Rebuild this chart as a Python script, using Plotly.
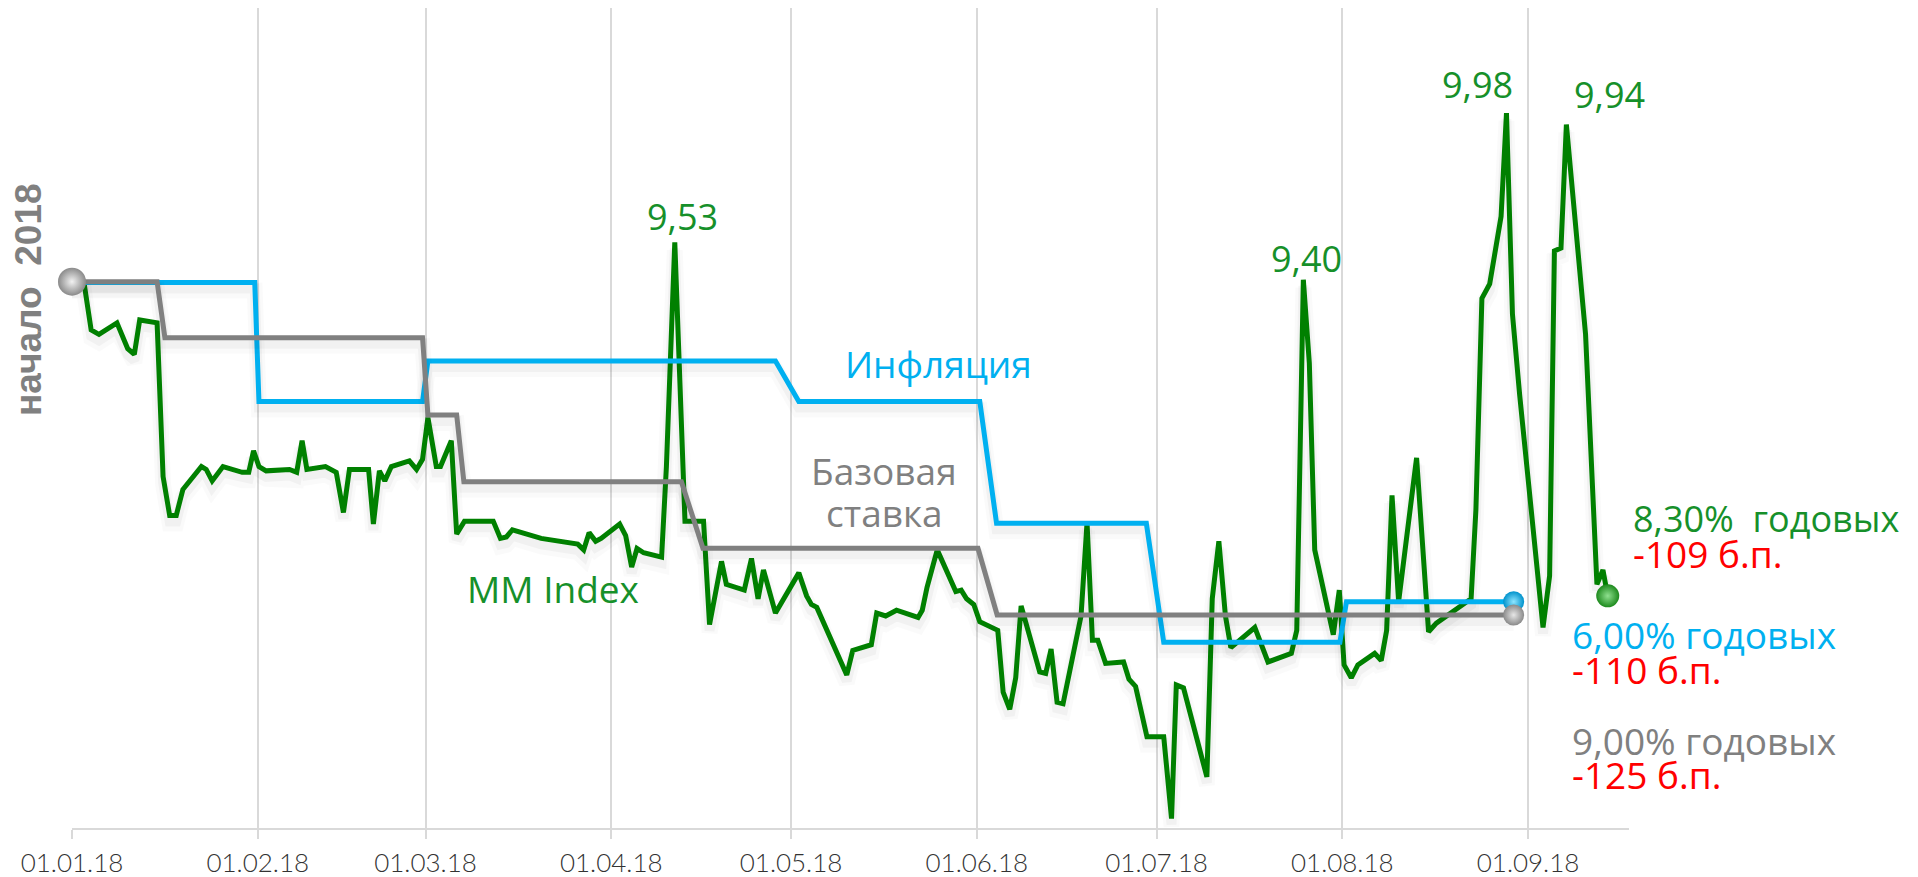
import pandas as pd
import plotly.graph_objects as go

# ---------------- data ----------------
# days counted from 01.01.18
mm_days = [
    0, 2, 3.2, 4.5, 7.5, 9.3, 10.4, 11.3, 14.2, 15.2,
    16.3, 17.4, 18.5, 21.6, 22.4, 23.4, 25.2, 28.4, 29.5, 30.3,
    31.2, 32.4, 36.3, 37.5, 38.4, 39.2, 42.3, 44.1, 45.3, 46.3,
    49.5, 50.3, 51.3, 52.2, 53.3, 56.3, 57.5, 58.5, 59.4, 60.8,
    61.5, 63.3, 64.2, 65.5, 70.3, 71.5, 72.5, 73.5, 78.3, 84.4,
    85.4, 86.3, 87.4, 88.3, 91.4, 92.4, 93.4, 94.3, 95.4, 98.4,
    99.2, 100.6, 102.3, 105.4, 106.4, 108.4, 109.2, 112.2, 113.4, 114.5,
    115.4, 117.4, 121.3, 122.6, 123.4, 124.3, 129.3, 130.3, 133.4, 134.3,
    135.8, 137.6, 141.2, 141.9, 142.7, 144.4, 147.5, 148.4, 149.3, 150.5,
    151.5, 154.5, 155.4, 156.5, 157.5, 158.4, 161.5, 162.5, 163.4, 164.4,
    165.4, 168.4, 169.4, 170.3, 171.2, 172.5, 175.5, 176.4, 177.5, 179.4,
    182.2, 183.5, 184.3, 185.5, 189.4, 190.3, 191.4, 192.5, 193.4, 197.4,
    199.6, 203.5, 204.4, 205.5, 206.5, 207.4, 210.5, 211.5, 212.3, 213.5,
    214.6, 217.4, 218.5, 219.4, 220.3, 221.4, 224.4, 225.3, 226.4, 227.7,
    230.7, 233.5, 234.3, 235.3, 236.6, 238.5, 239.4, 240.4, 241.6, 245.5,
    246.6, 247.4, 248.5, 249.4, 252.6, 253.4, 254.5, 255.5, 256.3,
]
mm_rates = [
    9.39, 9.39, 9.225, 9.21, 9.25, 9.16, 9.14, 9.26, 9.25, 8.715,
    8.58, 8.58, 8.67, 8.75, 8.74, 8.70, 8.75, 8.73, 8.73, 8.805,
    8.75, 8.735, 8.74, 8.73, 8.84, 8.74, 8.75, 8.73, 8.59, 8.74,
    8.74, 8.55, 8.735, 8.70, 8.75, 8.77, 8.74, 8.775, 8.92, 8.75,
    8.75, 8.84, 8.515, 8.56, 8.56, 8.50, 8.505, 8.53, 8.50, 8.48,
    8.46, 8.52, 8.49, 8.50, 8.55, 8.51, 8.40, 8.465, 8.45, 8.435,
    8.75, 9.53, 8.56, 8.56, 8.20, 8.42, 8.34, 8.32, 8.43, 8.29,
    8.39, 8.24, 8.38, 8.30, 8.27, 8.26, 8.025, 8.11, 8.13, 8.24,
    8.23, 8.25, 8.225, 8.25, 8.33, 8.46, 8.315, 8.32, 8.29, 8.27,
    8.21, 8.18, 7.965, 7.905, 8.015, 8.265, 8.035, 8.03, 8.115, 7.93,
    7.925, 8.23, 8.555, 8.146, 8.146, 8.065, 8.07, 8.01, 7.985, 7.81,
    7.81, 7.525, 7.99, 7.98, 7.67, 8.29, 8.49, 8.23, 8.12, 8.19,
    8.07, 8.10, 8.18, 9.40, 9.11, 8.46, 8.165, 8.32, 8.06, 8.015,
    8.06, 8.10, 8.075, 8.18, 8.65, 8.28, 8.78, 8.53, 8.175, 8.205,
    8.25, 8.29, 8.60, 9.335, 9.385, 9.62, 9.98, 9.28, 9.00, 8.19,
    8.37, 9.50, 9.51, 9.94, 9.21, 8.82, 8.34, 8.39, 8.30,
]

infl_days = [0, 30.5, 31.2, 58.5, 59.4, 117.4, 121.3, 151.5, 154.3, 179.3, 182.2, 211.6, 212.7, 240.6]
infl_rates = [7.10, 7.10, 6.69, 6.69, 6.83, 6.83, 6.69, 6.69, 6.27, 6.27, 5.86, 5.86, 6.00, 6.00]

base_days = [0, 14.2, 15.5, 58.5, 59.4, 64.2, 65.4, 101.7, 105.3, 151.2, 154.4, 240.6]
base_rates = [10.25, 10.25, 10.04, 10.04, 9.75, 9.75, 9.50, 9.50, 9.25, 9.25, 9.00, 9.00]

peak_labels = ["9,53", "9,40", "9,98", "9,94"]
tick_months = ["2018-01-01", "2018-02-01", "2018-03-01", "2018-04-01", "2018-05-01",
               "2018-06-01", "2018-07-01", "2018-08-01", "2018-09-01"]

assert len(mm_days) == len(mm_rates)

# ---------------- styling ----------------
GREEN = "#008000"
GREEN_TXT = "#16902a"
BLUE = "#00b0f0"
GREY = "#808080"
RED = "#ff0000"
LABEL_FONT = "'Open Sans', 'Noto Sans', sans-serif"

OFF = 8  # page body margin of the html page
W, H = 1918 - OFF, 877 - OFF
ML, MR, MT, MB = 64, 289, 0, 49
PW, PH = W - ML - MR, H - MT - MB

# axis ranges (plot area spans page y 8..828)
MM_RANGE = [7.4923, 10.3455]
INFL_RANGE = [5.2199, 8.0465]
BASE_RANGE = [8.2013, 11.276]

base_date = pd.Timestamp("2018-01-01")


def to_dates(days):
    return base_date + pd.to_timedelta(days, unit="D")


def px(xp):
    return (xp - OFF - ML) / PW


def py(yp):
    return (H - MB - (yp - OFF)) / PH


def shifted(vals, rng, pixels):
    k = (rng[1] - rng[0]) / PH
    return [v - pixels * k for v in vals]


fig = go.Figure()

# soft shadows under the lines
for days, vals, ax, rng in [(infl_days, infl_rates, "y2", INFL_RANGE),
                            (base_days, base_rates, "y3", BASE_RANGE),
                            (mm_days, mm_rates, "y", MM_RANGE)]:
    for w, a, s in [(16, 0.02, 8), (10, 0.035, 6)]:
        fig.add_trace(go.Scatter(x=to_dates(days), y=shifted(vals, rng, s), yaxis=ax, mode="lines",
                                 line=dict(color=f"rgba(0,0,0,{a})", width=w), hoverinfo="skip",
                                 showlegend=False))

fig.add_trace(go.Scatter(x=to_dates(infl_days), y=infl_rates, yaxis="y2", mode="lines",
                         line=dict(color=BLUE, width=5), hoverinfo="skip", showlegend=False))
fig.add_trace(go.Scatter(x=to_dates(base_days), y=base_rates, yaxis="y3", mode="lines",
                         line=dict(color=GREY, width=5), hoverinfo="skip", showlegend=False))
fig.add_trace(go.Scatter(x=to_dates(mm_days), y=mm_rates, yaxis="y", mode="lines",
                         line=dict(color=GREEN, width=5), hoverinfo="skip", showlegend=False))

# end / start balls
fig.add_trace(go.Scatter(x=to_dates([infl_days[-1]]), y=[infl_rates[-1]], yaxis="y2", mode="markers",
                         marker=dict(size=21, color="#0092cc", gradient=dict(type="radial", color="#8fe6ff"),
                                     line=dict(width=0)), cliponaxis=False, showlegend=False, hoverinfo="skip"))
fig.add_trace(go.Scatter(x=to_dates([base_days[-1]]), y=[base_rates[-1]], yaxis="y3", mode="markers",
                         marker=dict(size=21, color="#8a8a8a", gradient=dict(type="radial", color="#e6e6e6"),
                                     line=dict(width=0)), cliponaxis=False, showlegend=False, hoverinfo="skip"))
fig.add_trace(go.Scatter(x=to_dates([mm_days[-1]]), y=[mm_rates[-1]], yaxis="y", mode="markers",
                         marker=dict(size=23, color="#1d8a1d", gradient=dict(type="radial", color="#8fe08f"),
                                     line=dict(width=0)), cliponaxis=False, showlegend=False, hoverinfo="skip"))
fig.add_trace(go.Scatter(x=to_dates([base_days[0]]), y=[base_rates[0]], yaxis="y3", mode="markers",
                         marker=dict(size=28, color="#8a8a8a", gradient=dict(type="radial", color="#f2f2f2"),
                                     line=dict(width=0)), cliponaxis=False, showlegend=False, hoverinfo="skip"))

ann = []


def add_text(text, x, y, color, size=37, xanchor="center", yanchor="middle", family=LABEL_FONT, angle=0, weight=None):
    f = dict(family=family, size=size, color=color)
    if weight:
        f["weight"] = weight
    ann.append(dict(text=text, x=px(x), y=py(y), xref="paper", yref="paper", showarrow=False,
                    xanchor=xanchor, yanchor=yanchor, font=f, textangle=angle))


# peak labels
add_text(peak_labels[0], 682, 216, GREEN_TXT, size=36)
add_text(peak_labels[1], 1306, 258, GREEN_TXT, size=36)
add_text(peak_labels[2], 1477, 85, GREEN_TXT, size=36)
add_text(peak_labels[3], 1609, 95, GREEN_TXT, size=36)

# series labels
add_text("Инфляция", 939, 363, BLUE)
add_text("Базовая", 884, 470, GREY)
add_text("ставка", 884, 512, GREY)
add_text("MM Index", 553, 588, GREEN_TXT)

# right side values
add_text("8,30%&nbsp; годовых", 1631, 518, GREEN_TXT, xanchor="left", size=36)
add_text("-109 б.п.", 1631, 554, RED, xanchor="left", size=37)
add_text("6,00% годовых", 1570, 634, BLUE, xanchor="left", size=37)
add_text("-110 б.п.", 1570, 669, RED, xanchor="left", size=37)
add_text("9,00% годовых", 1570, 740, GREY, xanchor="left", size=37)
add_text("-125 б.п.", 1570, 774, RED, xanchor="left", size=37)

# rotated title
add_text("начало&nbsp; 2018", 28, 300, GREY, size=37, family="'Liberation Sans', Arial, sans-serif",
         angle=-90, weight="bold")

x_end_days = 259.85

# small gridline extensions to the very top of the page
shapes = [dict(type="line", xref="x", yref="paper", x0=d, x1=d, y0=1, y1=1 + OFF / PH,
               line=dict(color="#d9d9d9", width=2)) for d in pd.to_datetime(tick_months)]

fig.update_layout(
    width=W, height=H,
    margin=dict(l=ML, r=MR, t=MT, b=MB, pad=0, autoexpand=False),
    paper_bgcolor="white", plot_bgcolor="white",
    showlegend=False,
    annotations=ann,
    shapes=shapes,
    xaxis=dict(
        type="date",
        automargin=False,
        range=[to_dates([0])[0], to_dates([x_end_days])[0]],
        tickvals=pd.to_datetime(tick_months),
        tickformat="%d.%m.%y",
        showgrid=True, gridcolor="#d9d9d9", gridwidth=2,
        showline=True, linecolor="#d9d9d9", linewidth=2,
        ticks="outside", ticklen=9, tickcolor="#d9d9d9", tickwidth=2,
        ticklabelstandoff=2,
        tickfont=dict(family="Lato, Roboto, sans-serif", size=26, color="#333333", weight=300),
        zeroline=False,
    ),
    yaxis=dict(range=MM_RANGE, visible=False, showgrid=False, zeroline=False, automargin=False),
    yaxis2=dict(range=INFL_RANGE, overlaying="y", visible=False, showgrid=False, zeroline=False),
    yaxis3=dict(range=BASE_RANGE, overlaying="y", visible=False, showgrid=False, zeroline=False),
)

fig.write_html("out.html")
